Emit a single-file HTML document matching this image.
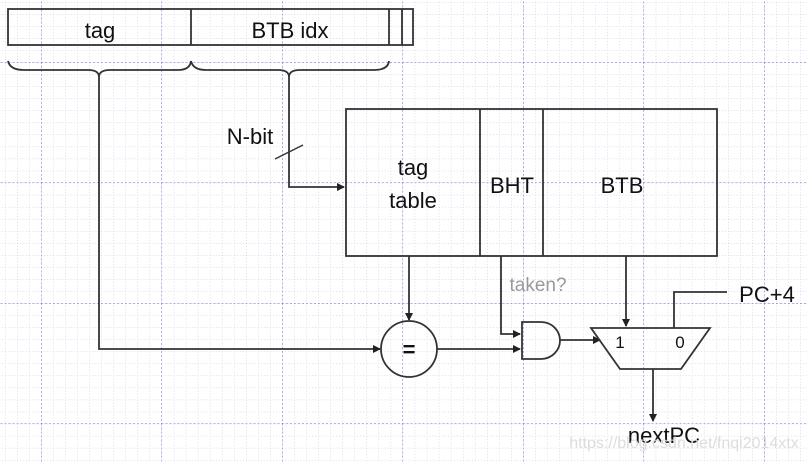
<!DOCTYPE html>
<html><head><meta charset="utf-8"><style>
html,body{margin:0;padding:0;background:#fff;}
svg{display:block;}
text{font-family:"Liberation Sans",sans-serif;fill:#111;}
</style></head><body>
<svg width="807" height="462" viewBox="0 0 807 462" xmlns="http://www.w3.org/2000/svg">
<defs>
<pattern id="minor" x="5" y="2" width="12.05" height="12.05" patternUnits="userSpaceOnUse">
<path d="M0 0H12.05M0 0V12.05" stroke="#b8b8d8" stroke-width="1" stroke-dasharray="1,2" fill="none"/>
</pattern>
<pattern id="major" x="41" y="62" width="120.5" height="120.5" patternUnits="userSpaceOnUse">
<path d="M0 0H120.5M0 0V120.5" stroke="#6b6bd0" stroke-width="1" stroke-dasharray="2,2" fill="none"/>
</pattern>
<marker id="ar" markerWidth="8" markerHeight="8" refX="7" refY="4" orient="auto" markerUnits="userSpaceOnUse">
<path d="M0 0L8 4L0 8z" fill="#222"/>
</marker>
</defs>
<rect width="807" height="462" fill="url(#minor)"/>
<rect width="807" height="462" fill="url(#major)"/>
<g stroke="#333" stroke-width="1.8" fill="none">
<rect x="8" y="9" width="405" height="36" fill="#fff" fill-opacity="0"/>
<line x1="191" y1="9" x2="191" y2="45"/>
<line x1="389" y1="9" x2="389" y2="45"/>
<line x1="402" y1="9" x2="402" y2="45"/>
<path d="M8 61 Q10 70 24 70 H88 Q99 70 99 77 Q99 70 110 70 H178 Q190 70 191 61"/>
<path d="M191 61 Q193 70 206 70 H278 Q289 70 289 77 Q289 70 300 70 H374 Q388 70 389 61"/>
<path d="M99 77 V349 H380" marker-end="url(#ar)"/>
<path d="M289 77 V187 H344" marker-end="url(#ar)"/>
<line x1="275" y1="159" x2="303" y2="145" stroke-width="1.4"/>
<rect x="346" y="109" width="371" height="147"/>
<line x1="480" y1="109" x2="480" y2="256"/>
<line x1="543" y1="109" x2="543" y2="256"/>
<path d="M409 256 V320" marker-end="url(#ar)"/>
<circle cx="409" cy="349" r="28"/>
<path d="M437 349 H520" marker-end="url(#ar)"/>
<path d="M501 256 V334 H520" marker-end="url(#ar)"/>
<path d="M522 322 H541 A19 18.5 0 0 1 541 359 H522 Z"/>
<path d="M560 340 H600" marker-end="url(#ar)"/>
<path d="M591 328 H710 L681 369 H620 Z"/>
<path d="M626 256 V326" marker-end="url(#ar)"/>
<path d="M674 328 V292 H727"/>
<path d="M653 369 V421" marker-end="url(#ar)"/>
</g>
<text x="100" y="38" font-size="22" text-anchor="middle">tag</text>
<text x="290" y="38" font-size="22" text-anchor="middle">BTB idx</text>
<text x="250" y="144" font-size="22" text-anchor="middle">N-bit</text>
<text x="413" y="175" font-size="22" text-anchor="middle">tag</text>
<text x="413" y="208" font-size="22" text-anchor="middle">table</text>
<text x="512" y="193" font-size="22" text-anchor="middle">BHT</text>
<text x="622" y="193" font-size="22" text-anchor="middle">BTB</text>
<text x="409" y="357" font-size="22" text-anchor="middle" font-weight="bold">=</text>
<text x="538" y="291" font-size="19" text-anchor="middle" style="fill:#999">taken?</text>
<text x="620" y="348" font-size="17" text-anchor="middle" font-family="Liberation Serif">1</text>
<text x="680" y="348" font-size="17" text-anchor="middle">0</text>
<text x="767" y="302" font-size="22" text-anchor="middle">PC+4</text>
<text x="664" y="443" font-size="22" text-anchor="middle">nextPC</text>
<text x="684" y="448" font-size="16" text-anchor="middle" style="fill:#ddd">https://blog.csdn.net/fnqi2014xtx</text>
</svg>
</body></html>
